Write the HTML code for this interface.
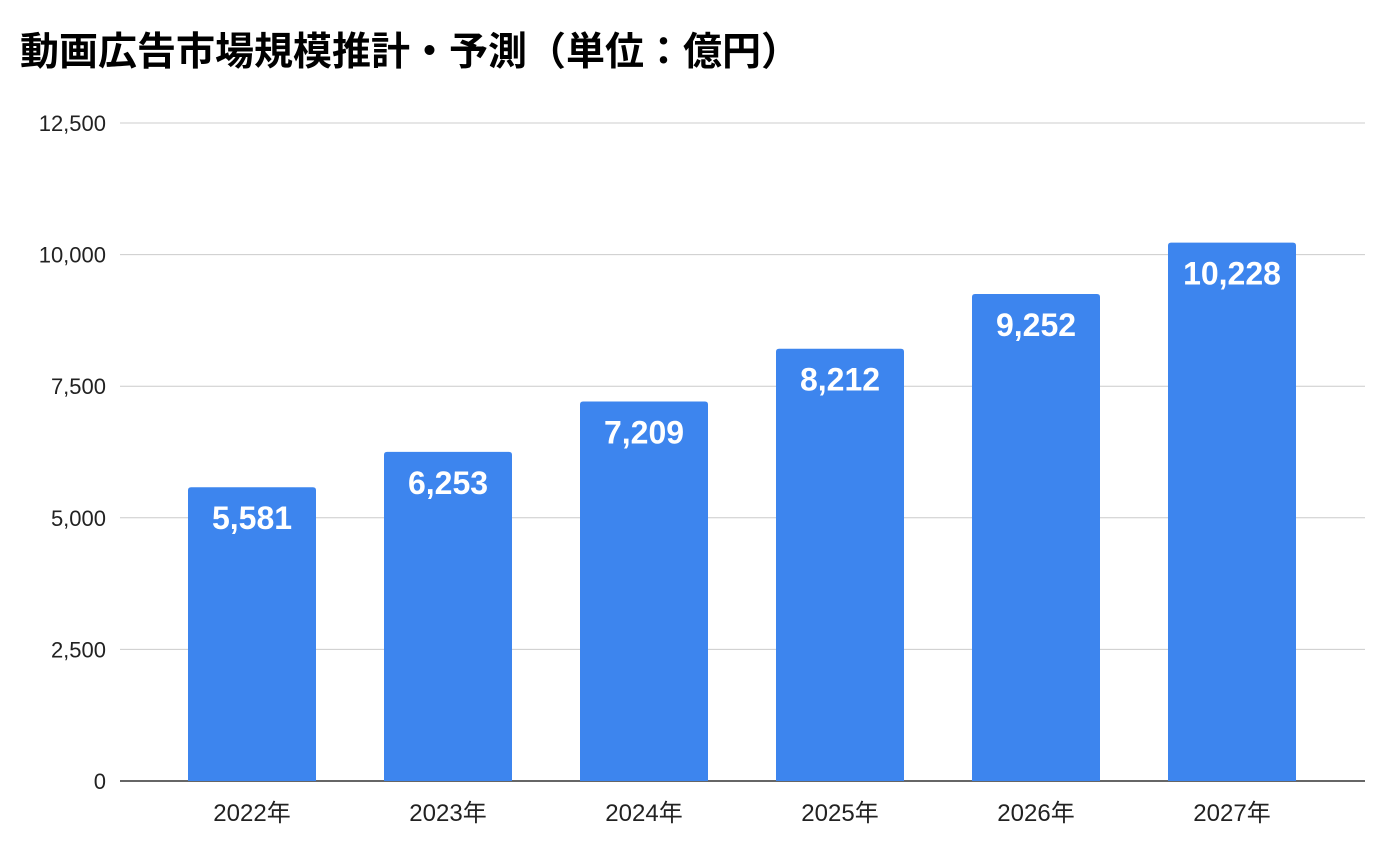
<!DOCTYPE html>
<html><head><meta charset="utf-8"><style>
html,body{margin:0;padding:0;background:#fff;}
body{width:1396px;height:854px;overflow:hidden;font-family:"Liberation Sans","Noto Sans CJK JP",sans-serif;}
</style></head><body>
<svg width="1396" height="854">
<text x="20" y="65" font-size="39" font-weight="bold" fill="#000" font-family="Liberation Sans, Noto Sans CJK JP, sans-serif">動画広告市場規模推計・予測（単位：億円）</text>
<g id="grid"></g><g id="bars"></g><g id="labels"></g>
</svg>
<script>
const categories=["2022年","2023年","2024年","2025年","2026年","2027年"];
const values=[5581,6253,7209,8212,9252,10228];
const valueLabels=["5,581","6,253","7,209","8,212","9,252","10,228"];
const ticks=[0,2500,5000,7500,10000,12500];
const tickLabels=["0","2,500","5,000","7,500","10,000","12,500"];
const NS="http://www.w3.org/2000/svg";
const y0=781,yTop=123,maxV=12500;
function y(v){return y0-(v/maxV)*(y0-yTop);}
function x(i){return 252+196*i;}
const bw=128;
function mk(t,a,p,txt){const e=document.createElementNS(NS,t);for(const k in a)e.setAttribute(k,a[k]);if(txt!==undefined)e.textContent=txt;p.appendChild(e);return e;}
const g=document.getElementById('grid'),b=document.getElementById('bars'),l=document.getElementById('labels');
ticks.forEach((t,i)=>{
 const ln=mk('line',{x1:120,x2:1365,y1:y(t),y2:y(t),stroke:i===0?'#333':'#ccc','stroke-width':i===0?1.5:1},g);
 
 
 const tx=mk('text',{x:106,y:y(t)+8,'text-anchor':'end','font-size':22,fill:'#222'},g,tickLabels[i]);
 
 
});
values.forEach((v,i)=>{
 const top=y(v),h=y0-top,xl=x(i)-bw/2,r=3;
 const p=mk('path',{d:`M${xl},${y0}V${top+r}Q${xl},${top} ${xl+r},${top}H${xl+bw-r}Q${xl+bw},${top} ${xl+bw},${top+r}V${y0}Z`,fill:'#3d85ee'},b);
 
 
 const vl=mk('text',{x:x(i),y:top+42,'text-anchor':'middle','font-size':32,'font-weight':'bold',fill:'#fff'},l,valueLabels[i]);
 
 
 const cl=mk('text',{x:x(i),y:821,'text-anchor':'middle','font-size':24,fill:'#222'},l,categories[i]);
 
 
});
</script>
</body></html>
